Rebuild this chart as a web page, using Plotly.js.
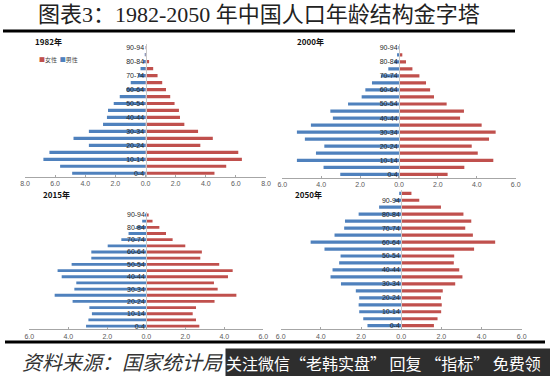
<!DOCTYPE html>
<html>
<head>
<meta charset="utf-8">
<script src="https://cdn.plot.ly/plotly-3.0.1.min.js"></script>
<style>html,body{margin:0;padding:0;background:#fff;}#chart{width:550px;height:376px;}</style>
</head>
<body>
<div id="chart"></div>
<script>
// ---- data (percent of total population) ----
const ageGroups = ['0-4','5-9','10-14','15-19','20-24','25-29','30-34','35-39','40-44','45-49',
                   '50-54','55-59','60-64','65-69','70-74','75-79','80-84','85-89','90-94','95-99'];
const ageTickLabels = ['0-4','10-14','20-24','30-34','40-44','50-54','60-64','70-74','80-84','90-94'];
const xTickVals = [-8,-6,-4,-2,0,2,4,6,8];
const xTickText = ['8.0','6.0','4.0','2.0','0.0','2.0','4.0','6.0','8.0'];
const seriesNames = ['女性','男性'];
const panelYears = ['1982年','2000年','2015年','2050年'];

const female1982 = [4.58,5.36,6.40,6.16,3.64,4.47,3.49,2.58,2.29,2.22,1.93,1.64,1.36,1.11,0.80,0.51,0.24,0.10,0.02];
const male1982   = [4.87,5.67,6.78,6.38,3.76,4.78,3.76,2.82,2.56,2.49,2.11,1.71,1.27,0.98,0.49,0.33,0.16,0.05,0.01];

const female2000 = [2.50,3.36,4.85,4.05,3.74,4.63,4.97,4.25,3.14,3.34,2.45,1.80,1.60,1.39,1.05,0.69,0.36,0.17,0.05];
const male2000   = [3.02,3.88,5.25,4.27,3.84,4.84,5.25,4.53,3.40,3.53,2.62,1.92,1.73,1.39,0.93,0.55,0.24,0.10,0.03];

const female2015 = [2.72,2.55,2.38,2.55,3.50,4.62,3.66,3.47,4.19,4.43,3.74,2.77,2.85,2.00,1.35,1.01,0.67,0.32,0.12];
const male2015   = [3.09,2.97,2.79,2.92,3.78,4.70,3.69,3.59,4.34,4.55,3.83,2.82,2.82,1.98,1.28,0.91,0.51,0.21,0.07];

const female2050 = [1.63,1.81,1.99,2.02,1.98,2.07,2.69,3.05,2.89,2.62,2.64,3.63,4.68,3.57,3.19,3.49,3.10,1.98,0.90,0.51];
const male2050   = [1.68,1.89,2.09,2.12,2.09,2.26,3.00,3.52,3.42,3.09,3.02,3.82,4.51,3.32,2.84,2.80,2.12,1.10,0.33,0.10];

// ---- styling ----
const femaleColor = '#C0504D';
const maleColor = '#4F81BD';
const latin = 'Liberation Sans, Arial, sans-serif';
const cjk = 'Noto Sans CJK SC, sans-serif';

const panels = [
  {female: female1982, male: male1982, range: [-8,8], xd: [0.0455,0.4836], yd: [0.530,0.8824], ax: ''},
  {female: female2000, male: male2000, range: [-6,6], xd: [0.5133,0.9376], yd: [0.527,0.8824], ax: '2'},
  {female: female2015, male: male2015, range: [-6,6], xd: [0.0533,0.4787], yd: [0.1245,0.4364], ax: '3'},
  {female: female2050, male: male2050, range: [-6,6], xd: [0.5104,0.9485], yd: [0.1245,0.4952], ax: '4'}
];

const data = [];
const layout = {
  width: 550, height: 376,
  margin: {l:0, r:0, t:0, b:0},
  paper_bgcolor: '#fff', plot_bgcolor: 'rgba(0,0,0,0)',
  barmode: 'relative', bargap: 0.54,
  showlegend: false,
  shapes: [], annotations: []
};

panels.forEach((p, i) => {
  const n = p.female.length;
  const cats = ageGroups.slice(0, n);
  const xa = 'x' + p.ax, ya = 'y' + p.ax;
  data.push({
    type: 'bar', orientation: 'h', name: seriesNames[0],
    y: cats, x: p.female, xaxis: xa, yaxis: ya,
    marker: {color: femaleColor}, hovertemplate: '%{y}: %{x}<extra>女性</extra>'
  });
  data.push({
    type: 'bar', orientation: 'h', name: seriesNames[1],
    y: cats, x: p.male.map(v => -v), xaxis: xa, yaxis: ya,
    marker: {color: maleColor}, customdata: p.male,
    hovertemplate: '%{y}: %{customdata}<extra>男性</extra>'
  });
  const tickVals = xTickVals.filter(v => v >= p.range[0] && v <= p.range[1]);
  const tickText = tickVals.map(v => xTickText[xTickVals.indexOf(v)]);
  layout['xaxis' + p.ax] = {
    domain: p.xd, range: p.range, anchor: ya,
    tickvals: tickVals, ticktext: tickText,
    showgrid: false, zeroline: false,
    showline: true, linecolor: '#a6a6a6', linewidth: 1,
    ticks: 'inside', ticklen: 2, tickcolor: '#a6a6a6',
    ticklabelstandoff: 0,
    tickfont: {family: latin, size: 7, color: '#595959'},
    fixedrange: true
  };
  layout['yaxis' + p.ax] = {
    domain: p.yd, type: 'category', categoryorder: 'array', categoryarray: cats,
    range: [-0.5, n - 0.5],
    anchor: 'free', position: (p.xd[0] + p.xd[1]) / 2,
    tickvals: ageTickLabels, ticktext: ageTickLabels,
    showgrid: false, zeroline: false,
    showline: true, linecolor: '#c8c8c8', linewidth: 1,
    ticks: '', ticklabelstandoff: 0,
    tickfont: {family: latin, size: 7, color: '#1f1f1f'},
    fixedrange: true
  };
});

// panel titles
const titlePos = [[33/550, 1-42/376], [295/550, 1-42/376], [41/550, 1-194/376], [293/550, 1-194/376]];
panelYears.forEach((t, i) => {
  layout.annotations.push({
    xref: 'paper', yref: 'paper', x: titlePos[i][0], y: titlePos[i][1],
    xanchor: 'left', yanchor: 'middle', showarrow: false,
    text: '<b>' + t + '</b>', font: {family: cjk, size: 8, color: '#111'}
  });
});

// legend (panel 1 only)
layout.annotations.push({
  xref: 'paper', yref: 'paper', x: 37/550, y: 1-60/376, xanchor: 'left', yanchor: 'middle',
  showarrow: false,
  text: '<span style="color:' + femaleColor + '">■</span>' + seriesNames[0] +
        '  <span style="color:' + maleColor + '">■</span>' + seriesNames[1],
  font: {family: cjk, size: 6, color: '#444'}
});

// main title
layout.annotations.push({
  xref: 'paper', yref: 'paper', x: 36/550, y: 1-15/376, xanchor: 'left', yanchor: 'middle',
  showarrow: false,
  text: '图表3：1982-2050 年中国人口年龄结构金字塔',
  font: {family: 'Liberation Serif, Noto Sans CJK SC, serif', size: 22, color: '#222'}
});

// rules
layout.shapes.push({type: 'line', xref: 'paper', yref: 'paper', x0: 3/550, x1: 515/550,
  y0: 1-31/376, y1: 1-31/376, line: {color: '#000', width: 3}});
layout.shapes.push({type: 'line', xref: 'paper', yref: 'paper', x0: 5/550, x1: 545/550,
  y0: 1-342/376, y1: 1-342/376, line: {color: '#000', width: 3}, layer: 'below'});

// footer source
layout.annotations.push({
  xref: 'paper', yref: 'paper', x: 20/550, y: 1-361/376, xanchor: 'left', yanchor: 'middle',
  showarrow: false,
  text: '<i>资料来源：国家统计局</i>',
  font: {family: cjk, size: 20, color: '#333'}
});

// overlay banner
layout.annotations.push({
  xref: 'paper', yref: 'paper', x: 225/550, y: 1-348/376, xanchor: 'left', yanchor: 'top',
  showarrow: false, width: 325, height: 28, align: 'left', valign: 'middle',
  bgcolor: '#2e2e2e', borderpad: 0,
  text: '关注微信“老韩实盘” 回复 “指标” 免费领',
  font: {family: cjk, size: 16, color: '#fff'}
});

Plotly.newPlot('chart', data, layout, {displayModeBar: false, staticPlot: true});
</script>
</body>
</html>
